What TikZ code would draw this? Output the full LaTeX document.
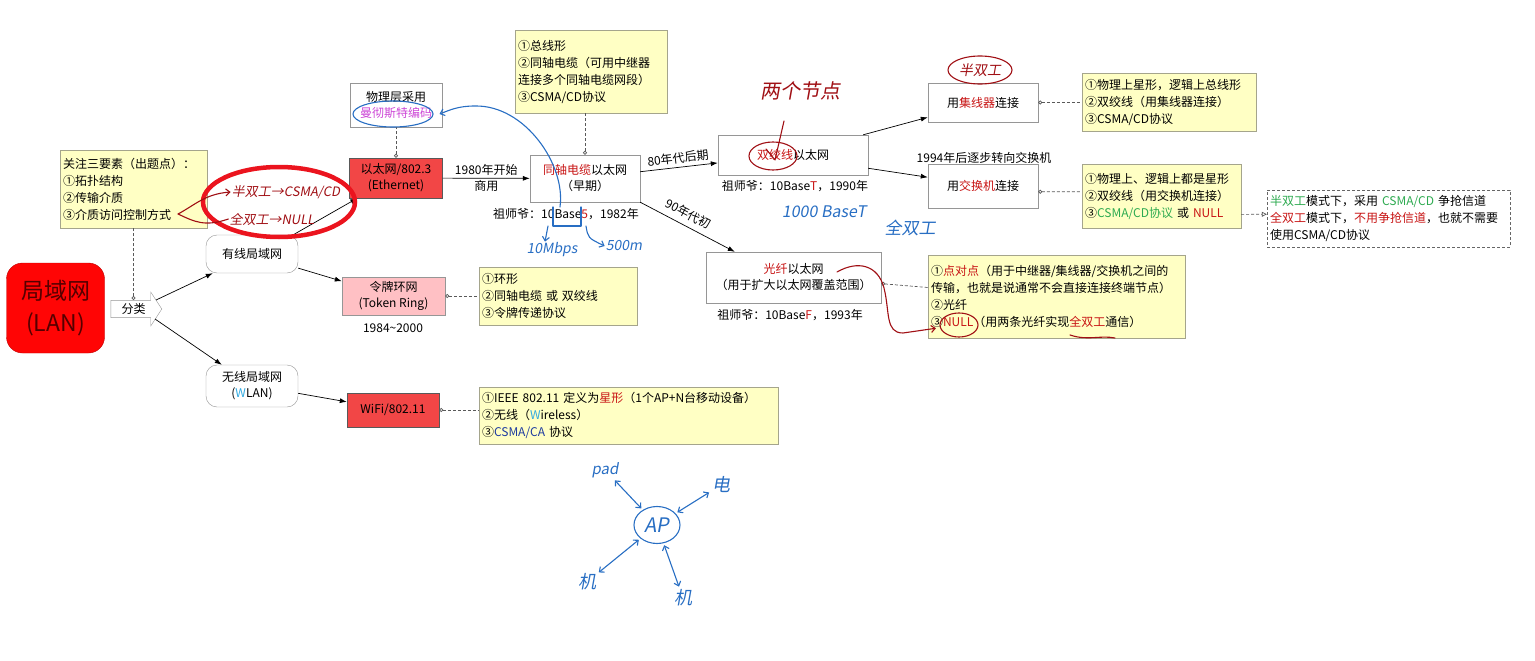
\documentclass[tikz,border=0pt]{standalone}
\usepackage{fontspec}
\setmainfont{Noto Sans CJK SC}
\newfontfamily\handfont[FakeSlant=0.18]{Noto Sans CJK SC}
\usetikzlibrary{arrows.meta}
\usetikzlibrary{shapes.arrows,shapes.geometric}
\definecolor{lanred}{RGB}{255,5,5}
\definecolor{lantext}{RGB}{85,0,0}
\definecolor{boxred}{RGB}{242,70,70}
\definecolor{tokenpink}{RGB}{255,192,196}
\definecolor{noteyellow}{RGB}{255,255,196}
\definecolor{noteedge}{RGB}{165,165,140}
\definecolor{edgegray}{RGB}{150,150,150}
\definecolor{txtred}{RGB}{200,20,20}
\definecolor{txtgreen}{RGB}{45,170,80}
\definecolor{txtpurple}{RGB}{205,70,215}
\definecolor{txtteal}{RGB}{50,170,225}
\definecolor{txtblue}{RGB}{30,60,160}
\definecolor{penred}{RGB}{160,15,20}
\definecolor{penblue}{RGB}{40,110,195}
\definecolor{circred}{RGB}{235,20,30}
\tikzstyle{lanbox} = [draw=red!75!black, fill=lanred, rounded corners=16pt, minimum width=98pt, minimum height=90pt, align=center, text=lantext, font=\fontsize{23}{32}\selectfont]
\tikzstyle{catarrow} = [draw=edgegray, fill=white, shape=single arrow, single arrow tip angle=114, single arrow head extend=8pt, minimum width=34pt, minimum height=51pt, inner ysep=2.5pt, inner xsep=2pt]
\tikzstyle{plainbox} = [draw=edgegray, fill=white, align=center, inner sep=2pt]
\tikzstyle{redbox} = [plainbox, fill=boxred, draw=gray!70!black]
\tikzstyle{roundbox} = [plainbox, rounded corners=11pt]
\tikzstyle{notebox} = [draw=noteedge, fill=noteyellow, align=left, inner xsep=3pt, font=\fontsize{12}{17}\selectfont]
\tikzstyle{tipnote} = [notebox, fill=white, draw=gray!80!black, densely dashed]
\tikzstyle{arr} = [-{Latex[length=7pt,width=5pt]}, line width=0.7pt]
\tikzstyle{lnk} = [{Circle[open,length=4pt,width=4pt]}-, densely dashed, gray!70!black, line width=0.7pt]
\tikzstyle{lnkto} = [-{Triangle[open,length=5pt,width=5pt]}, densely dashed, gray!70!black, line width=0.7pt]
\tikzstyle{penr} = [draw=penred, line width=1.1pt, line cap=round, line join=round]
\tikzstyle{penb} = [draw=penblue, line width=1.1pt, line cap=round, line join=round]
\tikzstyle{barb} = [-{Straight Barb[length=4pt,width=7pt]}]
\tikzstyle{twoway} = [{Straight Barb[length=4pt,width=7pt]}-{Straight Barb[length=4pt,width=7pt]}, shorten <=2pt, shorten >=2pt]
\tikzstyle{handr} = [text=penred, inner sep=1pt]
\tikzstyle{handb} = [text=penblue, inner sep=1pt]
\tikzstyle{ring} = [ellipse, line width=1.1pt, inner sep=0pt]

\begin{document}
\begin{tikzpicture}[x=1pt,y=-1pt,font=\fontsize{12}{16}\selectfont]
    \useasboundingbox (0,0) rectangle (1535,661);
    \begin{scope}
      \node[lanbox] (lan) at (55.5,308) {局域网\\(LAN)};
      \node[catarrow] (fenlei) at (133.5,309) {分类};
      \node[notebox, text width=141pt, minimum height=78pt] (focus) at (133.5,189) {关注三要素（出题点）：\\①拓扑结构\\②传输介质\\③介质访问控制方式};
      \node[roundbox, minimum width=92pt, minimum height=38pt] (wired) at (252,254) {有线局域网};
      \node[roundbox, minimum width=92pt, minimum height=42pt] (wireless) at (252,386) {无线局域网\\(\textcolor{txtteal}{W}LAN)};
      \node[redbox, minimum width=93pt, minimum height=40pt] (eth) at (396,178) {以太网/802.3\\(Ethernet)};
      \node[plainbox, minimum width=92pt, minimum height=44pt] (phys) at (396,105) {物理层采用\\\textcolor{txtpurple}{曼彻斯特编码}};
      \node[plainbox, minimum width=110pt, minimum height=47pt] (coax) at (585,178.5) {\textcolor{txtred}{同轴电缆}以太网\\（早期）};
      \node[notebox, text width=146pt, minimum height=83pt] (coaxnote) at (591,71.5) {①总线形\\②同轴电缆（可用中继器\\连接多个同轴电缆网段）\\③CSMA/CD协议};
      \node[plainbox, minimum width=150pt, minimum height=40pt] (tp) at (793,155) {\textcolor{txtred}{双绞线}以太网};
      \node[plainbox, minimum width=110pt, minimum height=39pt] (hub) at (983,102.5) {用\textcolor{txtred}{集线器}连接};
      \node[plainbox, minimum width=110pt, minimum height=44pt] (sw) at (983,186) {用\textcolor{txtred}{交换机}连接};
      \node[notebox, text width=168pt, minimum height=58pt] (hubnote) at (1169,102) {①物理上星形，逻辑上总线形\\②双绞线（用集线器连接）\\③CSMA/CD协议};
      \node[notebox, text width=153pt, minimum height=64pt] (swnote) at (1161.5,196) {①物理上、逻辑上都是星形\\②双绞线（用交换机连接）\\③\textcolor{txtgreen}{CSMA/CD协议} 或 \textcolor{txtred}{NULL}};
      \node[tipnote, text width=237pt, minimum height=57pt] (duplex) at (1388.5,218.5) {\textcolor{txtgreen}{半双工}模式下，采用 \textcolor{txtgreen}{CSMA/CD} 争抢信道\\\textcolor{txtred}{全双工}模式下，\textcolor{txtred}{不用争抢信道}，也就不需要\\使用CSMA/CD协议};
      \node[plainbox, minimum width=175pt, minimum height=51pt] (fiber) at (793.5,277.5) {\textcolor{txtred}{光纤}以太网\\（用于扩大以太网覆盖范围）};
      \node[notebox, text width=251pt, minimum height=83pt] (fibernote) at (1056.5,296.5) {①\textcolor{txtred}{点对点}（用于中继器/集线器/交换机之间的\\传输，也就是说通常不会直接连接终端节点）\\②光纤\\③\textcolor{txtred}{NULL}（用两条光纤实现\textcolor{txtred}{全双工}通信）};
      \node[plainbox, fill=tokenpink, minimum width=103pt, minimum height=38pt] (token) at (393.5,296) {令牌环网\\(Token Ring)};
      \node[notebox, text width=152pt, minimum height=58pt] (tokennote) at (558,296) {①环形\\②同轴电缆 或 双绞线\\③令牌传递协议};
      \node[redbox, minimum width=92pt, minimum height=34pt] (wifi) at (393,410) {WiFi/802.11};
      \node[notebox, text width=293pt, minimum height=57pt] (wifinote) at (628.5,415.5) {①IEEE 802.11 定义为\textcolor{txtred}{星形}（1个AP+N台移动设备）\\②无线（\textcolor{txtteal}{W}ireless）\\③\textcolor{txtblue}{CSMA/CA} 协议};

      \node (basecoax) at (566,214) {祖师爷：10Base\textcolor{txtred}{5}，1982年};
      \node (basetp) at (795,186) {祖师爷：10Base\textcolor{txtred}{T}，1990年};
      \node (basefiber) at (790,315) {祖师爷：10Base\textcolor{txtred}{F}，1993年};
      \node (swyear) at (984,158) {1994年后逐步转向交换机};
      \node (tokenyear) at (393,328) {1984\string~2000};

      \draw[arr] ([shift={(-6,-9)}]fenlei.tip) -- ([xshift=7pt]wired.south west);
      \draw[arr] ([shift={(-7,10)}]fenlei.tip) -- ([xshift=16pt]wireless.north west);
      \draw[arr] ([xshift=-5pt]wired.north east) -- ([xshift=8pt]eth.south west);
      \draw[arr] (wired.-17) -- (token.164);
      \draw[arr] (wireless.-9) -- (wifi.170);
      \draw[arr] (eth) -- node[align=center] {1980年开始\\商用} (coax);
      \draw[arr] (coax.7) -- node[sloped, above=0pt] {80年代后期} (tp.186);
      \draw[arr] (coax.south east) -- node[sloped, above=3pt, pos=0.45] {90年代初} ([xshift=29pt]fiber.north west);
      \draw[arr] ([xshift=-5pt]tp.north east) -- (hub.195);
      \draw[arr] (tp.-10) -- (sw.171);

      \draw[lnk] ([yshift=9pt]fenlei.center) -- (focus.south);
      \draw[lnk] (eth.north) -- (phys.south);
      \draw[lnk] (coax.north) -- (coax.north |- coaxnote.south);
      \draw[lnk] (hub.east) -- (hub.east -| hubnote.west);
      \draw[lnk] (sw.-6) -- (swnote.177);
      \draw[lnkto] (swnote.-13) -- (duplex.178);
      \draw[lnk] (fiber.-4) -- (fibernote.176);
      \draw[lnk] (token.east) -- (token.east -| tokennote.west);
      \draw[lnk] (wifi.east) -- (wifi.east -| wifinote.west);
    \end{scope}
    \begin{scope}
      \draw[circred, line width=4.5pt] (279,202) ellipse [x radius=76, y radius=35];
      \node[handr, font={\handfont\fontsize{13}{15}\selectfont}] (halfcd) at (286,192) {半双工→CSMA/CD};
      \node[handr, font={\handfont\fontsize{13}{15}\selectfont}] (fullnull) at (272,219) {全双工→NULL};
      \coordinate (c3) at (178,214);
      \draw[penr, barb] (c3) .. controls (195,205) and (205,194) .. (halfcd.west);
      \draw[penr] (c3) .. controls (195,222) and (205,227) .. (fullnull.west);
      \node[handr, font={\handfont\fontsize{20}{22}\selectfont}] (twonodes) at (800,91) {两个节点};
      \node[ring, draw=penred, minimum width=48pt, minimum height=28pt] (tpring) at (773,156) {};
      \draw[penr] (766,149) -- (775,160) -- (784,121);
      \node[handr, ring, draw=penred, minimum width=64pt, minimum height=28pt, font={\handfont\fontsize{14}{16}\selectfont}] (halfmark) at (980,70) {半双工};
      \coordinate (fstart) at (837,272);
      \node[ring, draw=penred, minimum width=38pt, minimum height=24pt] (nullring) at (959,325) {};
      \draw[penr, barb, shorten >=4pt] (fstart) .. controls (858,260) and (878,265) .. (884,288) .. controls (890,312) and (885,333) .. (903,333) -- (nullring.188);
      \draw[penr] (1070,335) .. controls (1088,341) and (1100,335) .. (1115,338);

      \node[ring, draw=penblue, minimum width=80pt, minimum height=26pt] (mring) at (393,114) {};
      \node[handb, font={\handfont\fontsize{16}{18}\selectfont}] (gig) at (824,212) {1000 BaseT};
      \node[handb, font={\handfont\fontsize{17}{19}\selectfont}] (fullb) at (910,228) {全双工};
      \coordinate (bl) at (553,226);
      \coordinate (br) at (581,226);
      \draw[penb] (553,207) -- (bl) -- (br) -- (581,207);
      \draw[penb, barb] (560,207) .. controls (566,165) and (525,105) .. (475,106) .. controls (458,106) and (450,110) .. ([xshift=6pt]mring.east);
      \node[handb, font={\handfont\fontsize{14}{16}\selectfont}] (mbps) at (552,250) {10Mbps};
      \node[handb, font={\handfont\fontsize{14}{16}\selectfont}] (len) at (624,246) {500m};
      \draw[penb, barb] ([xshift=-5pt]bl) -- ([xshift=-7pt]mbps.north);
      \draw[penb, barb] ([xshift=5pt]br) .. controls (588,238) .. (len.west);

      \node[ring, draw=penblue, minimum width=46pt, minimum height=37pt, text=penblue, font={\handfont\fontsize{20}{22}\selectfont}] (ap) at (657,525) {AP};
      \node[handb, font={\handfont\fontsize{15}{17}\selectfont}] (pad) at (605,470) {pad};
      \node[handb, font={\handfont\fontsize{18}{20}\selectfont}] (dian) at (721,485) {电};
      \node[handb, font={\handfont\fontsize{18}{20}\selectfont}] (ji1) at (587,582) {机};
      \node[handb, font={\handfont\fontsize{18}{20}\selectfont}] (ji2) at (683,598) {机};
      \draw[penb, twoway] (pad) -- (ap);
      \draw[penb, twoway] (ap) -- (dian);
      \draw[penb, twoway] (ap) -- (ji1);
      \draw[penb, twoway] (ap) -- (ji2);
    \end{scope}
  \end{tikzpicture}
\end{document}
